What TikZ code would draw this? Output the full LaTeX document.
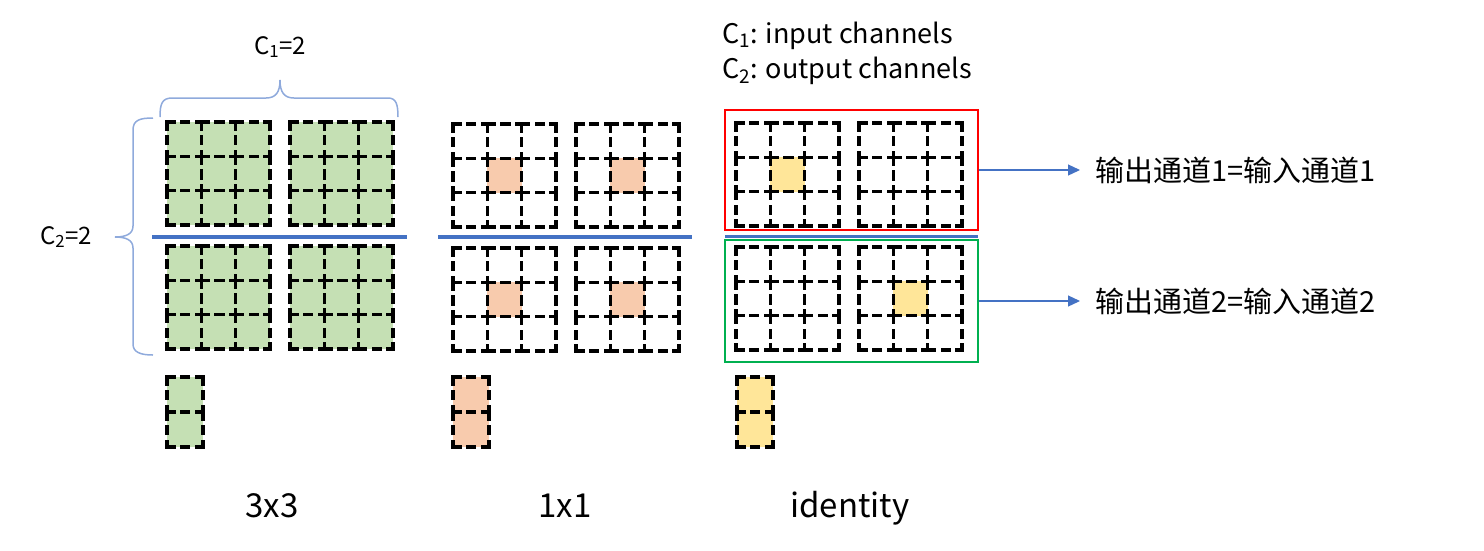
\documentclass[tikz,border=0pt]{standalone}
\usepackage{fontspec}
\setmainfont{Noto Sans CJK SC}
\usetikzlibrary{arrows.meta}

\definecolor{kgreen}{HTML}{C5E0B4}
\definecolor{korange}{HTML}{F8CBAD}
\definecolor{kyellow}{HTML}{FFE699}
\definecolor{lineblue}{HTML}{4472C4}
\definecolor{braceblue}{HTML}{8FAADC}
\definecolor{boxgreen}{HTML}{00B050}

\tikzset{
	cell/.style={draw=black, line width=3.3pt, line cap=rect, dash pattern=on 7pt off 7.6pt},
	sep/.style={draw=lineblue, line width=4pt},
	curly/.style={draw=braceblue, line width=1.5pt},
	arr/.style={draw=lineblue, line width=1.2pt, -{Triangle[length=12pt,width=11pt]}},
	chbox/.style={line width=2pt, minimum width=253pt, inner sep=0pt},
	dim/.style={font=\fontsize{24}{28}\selectfont, inner sep=0pt},
	note/.style={font=\fontsize{27}{32}\selectfont, inner sep=0pt},
	txt/.style={font=\fontsize{29}{33}\selectfont, inner sep=0pt},
	lbl/.style={font=\fontsize{33}{40}\selectfont, inner sep=0pt}
}

\newcommand*{\cellw}{34.3}
% dashed cells: x, y, columns, rows, cell width, cell height
% every cell starts its dashes at its top left corner
\newcommand*{\kcells}[6]{%
	\foreach \i in {1,...,#3}{
	\foreach \j in {1,...,#4}{
	\draw[cell] ({#1+(\i-1)*#5},{#2+(\j-1)*#6}) -- +(#5,0);
	\draw[cell] ({#1+(\i-1)*#5},{#2+(\j-1)*#6}) -- +(0,#6);}}
	\foreach \j in {1,...,#4}{
	\draw[cell] ({#1+#3*#5},{#2+(\j-1)*#6}) -- +(0,#6);}
	\foreach \i in {1,...,#3}{
	\draw[cell] ({#1+(\i-1)*#5},{#2+#4*#6}) -- +(#5,0);}}

\begin{document}
\begin{tikzpicture}[x=1pt, y=-1pt]
	\useasboundingbox (0,0) rectangle (1484,550);

	%fills first (3x3 green, 1x1 orange, identity yellow)
	\foreach \x in {167,290}{
	\foreach \y in {122,246}{
	\fill[kgreen] (\x,\y) rectangle +(103,103);}}
	\foreach \x in {453,576}{
	\foreach \y in {124,248}{
	\fill[korange] ({\x+\cellw},{\y+\cellw}) rectangle +(\cellw,\cellw);}}
	\fill[kyellow] ({736+\cellw},{123+\cellw}) rectangle +(\cellw,\cellw);
	\fill[kyellow] ({859+\cellw},{247+\cellw}) rectangle +(\cellw,\cellw);

	%bias columns
	\foreach \x / \c in {167/kgreen,453/korange,737/kyellow}{
	\fill[\c] (\x,377) rectangle +(36,70);
	\kcells{\x}{377}{1}{2}{36}{35}}

	%dashed kernels
	\foreach \x / \y in {167/122,290/122,167/246,290/246,
		453/124,576/124,453/248,576/248,
		736/123,859/123,736/247,859/247}{
	\kcells{\x}{\y}{3}{3}{\cellw}{\cellw}}

	% blue separators
	\draw[sep] (152,237) -- (407,237);
	\draw[sep] (438,237) -- (692,237);
	\draw[sep, line width=3pt] (725,236) -- (978,236);

	%braces
	\draw[curly] (160,117) .. controls (160,104) and (162,98) .. (172,98) -- (266,98)
		.. controls (276,98) and (280,92) .. (280,80)
		.. controls (280,92) and (284,98) .. (294,98) -- (388,98)
		.. controls (396,98) and (398,104) .. (398,117);
	\draw[curly] (153,118) .. controls (140,118) and (133,120) .. (133,130) -- (133,226)
		.. controls (133,234) and (126,237) .. (115,237)
		.. controls (126,237) and (133,240) .. (133,248) -- (133,344)
		.. controls (133,352) and (140,355) .. (153,355);
	\node[dim] (c1) at (280,47) {C\textsubscript{1}=2};
	\node[dim] (c2) at (66,237) {C\textsubscript{2}=2};

	%legend
	\node[note, anchor=base west] (c1note) at (722,43) {C\textsubscript{1}: input channels};
	\node[note, anchor=base west] (c2note) at (722,78) {C\textsubscript{2}: output channels};

	% output channel boxes
	\node[chbox, draw=red, minimum height=120pt] (ch1) at (851.5,170) {};
	\node[chbox, draw=boxgreen, minimum height=122pt] (ch2) at (851.5,301) {};
	\node[txt, anchor=west] (out1) at (1095,170) {输出通道1=输入通道1};
	\node[txt, anchor=west] (out2) at (1095,301) {输出通道2=输入通道2};
	\draw[arr, shorten >=15pt] (ch1.east) -- (out1.west);
	\draw[arr, shorten >=15pt] (ch2.east) -- (out2.west);

	%kernel names
	\node[lbl, anchor=base] (k3) at (272,517) {3x3};
	\node[lbl, anchor=base] (k1) at (565,517) {1x1};
	\node[lbl, anchor=base] (kid) at (850,517) {identity};

\end{tikzpicture}
\end{document}
